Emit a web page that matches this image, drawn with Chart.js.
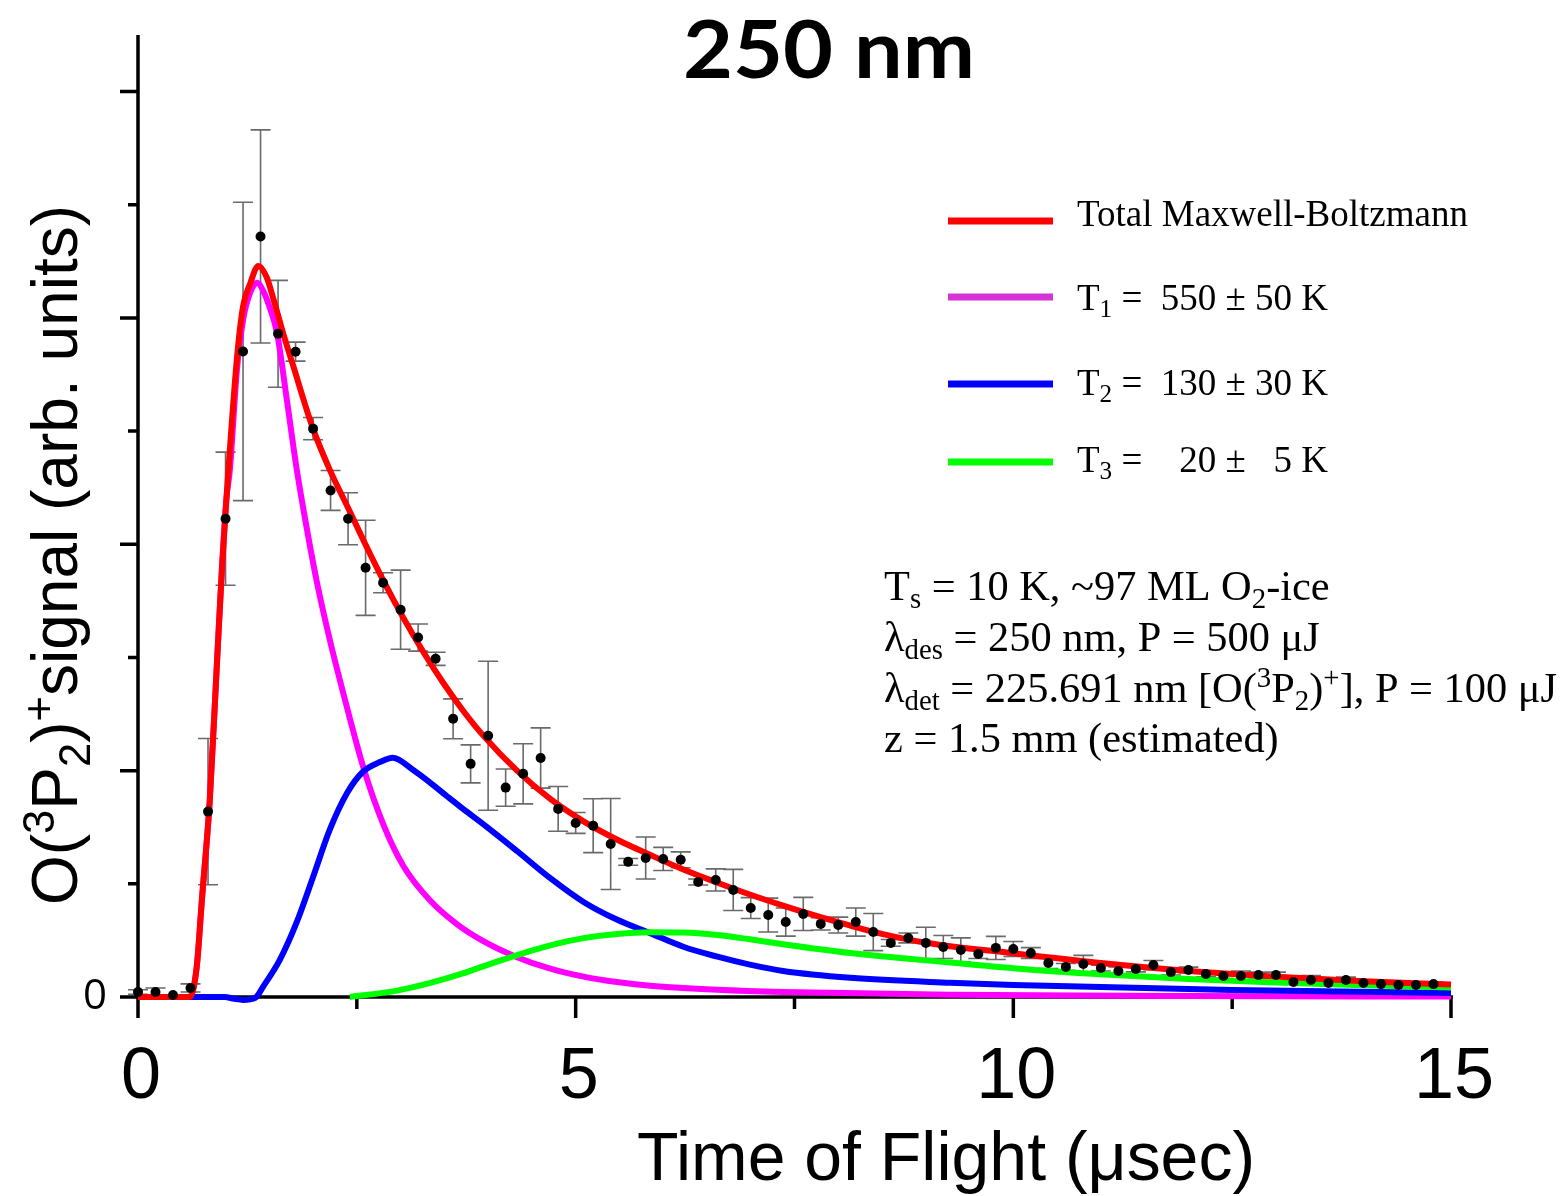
<!DOCTYPE html>
<html>
<head>
<meta charset="utf-8">
<script src="https://cdn.jsdelivr.net/npm/chart.js@4.4.1/dist/chart.umd.min.js"></script>
<style>
  html, body { margin: 0; padding: 0; background: #fff; }
  #wrap { width: 1567px; height: 1196px; }
</style>
</head>
<body>
<div id="wrap"><canvas id="tofChart" width="1567" height="1196"></canvas></div>
<script>
// measured O(3P2)+ signal, one point every 0.2 usec
var tofTimes = [
  0.0, 0.2, 0.4, 0.6, 0.8, 1.0, 1.2, 1.4, 1.6, 1.8,
  2.0, 2.2, 2.4, 2.6, 2.8, 3.0, 3.2, 3.4, 3.6, 3.8,
  4.0, 4.2, 4.4, 4.6, 4.8, 5.0, 5.2, 5.4, 5.6, 5.8,
  6.0, 6.2, 6.4, 6.6, 6.8, 7.0, 7.2, 7.4, 7.6, 7.8,
  8.0, 8.2, 8.4, 8.6, 8.8, 9.0, 9.2, 9.4, 9.6, 9.8,
  10.0, 10.2, 10.4, 10.6, 10.8, 11.0, 11.2, 11.4, 11.6, 11.8,
  12.0, 12.2, 12.4, 12.6, 12.8, 13.0, 13.2, 13.4, 13.6, 13.8,
  14.0, 14.2, 14.4, 14.6, 14.8
];
var tofSignal = [
  0.022, 0.022, 0.009, 0.040, 0.819, 2.113, 2.852, 3.360, 2.930, 2.851,
  2.511, 2.238, 2.113, 1.896, 1.830, 1.711, 1.588, 1.494, 1.229, 1.030,
  1.154, 0.925, 0.986, 1.056, 0.831, 0.769, 0.757, 0.676, 0.597, 0.614,
  0.610, 0.606, 0.508, 0.517, 0.473, 0.393, 0.362, 0.331, 0.367, 0.323,
  0.318, 0.331, 0.287, 0.239, 0.261, 0.239, 0.221, 0.208, 0.190, 0.217,
  0.212, 0.194, 0.150, 0.133, 0.146, 0.128, 0.115, 0.124, 0.141, 0.110,
  0.119, 0.102, 0.093, 0.093, 0.097, 0.097, 0.066, 0.075, 0.062, 0.075,
  0.062, 0.057, 0.053, 0.053, 0.057
];
var tofError = [
  0.010, 0.018, 0.000, 0.018, 0.323, 0.294, 0.659, 0.471, 0.236, 0.042,
  0.049, 0.088, 0.115, 0.210, 0.044, 0.175, 0.060, 0.029, 0.088, 0.084,
  0.329, 0.082, 0.133, 0.133, 0.099, 0.046, 0.119, 0.201, 0.015, 0.093,
  0.051, 0.035, 0.013, 0.049, 0.091, 0.046, 0.075, 0.062, 0.073, 0.027,
  0.035, 0.062, 0.082, 0.015, 0.022, 0.069, 0.051, 0.053, 0.020, 0.051,
  0.033, 0.024, 0.024, 0.015, 0.038, 0.013, 0.018, 0.013, 0.020, 0.013,
  0.013, 0.013, 0.011, 0.022, 0.013, 0.013, 0.009, 0.020, 0.009, 0.013,
  0.009, 0.009, 0.009, 0.009, 0.009
];

// fitted curves
var totalT = [0, 0.59, 0.67, 0.73, 0.82, 0.9, 0.96, 1.01, 1.13, 1.2, 1.28, 1.375, 1.47, 1.55, 1.66, 1.78, 1.89, 2.0, 2.19, 2.42, 2.61, 2.8, 3.03, 3.26, 3.49, 3.71, 3.94, 4.33, 4.71, 5.09, 5.47, 5.85, 6.23, 6.62, 6.99, 7.37, 7.76, 8.14, 8.51, 9.0, 10.0, 11.0, 12.0, 13.0, 14.0, 15.0];
var totalY = [0, 0, 0.13, 0.43, 0.87, 1.46, 1.90, 2.20, 2.82, 3.05, 3.15, 3.23, 3.18, 3.08, 2.93, 2.78, 2.64, 2.51, 2.33, 2.145, 1.99, 1.842, 1.676, 1.524, 1.386, 1.267, 1.157, 1.0, 0.875, 0.776, 0.696, 0.628, 0.563, 0.505, 0.453, 0.404, 0.357, 0.315, 0.278, 0.24, 0.193, 0.15, 0.115, 0.09, 0.07, 0.055];

var t1T = [0, 0.59, 0.67, 0.73, 0.82, 0.9, 0.96, 1.01, 1.05, 1.13, 1.2, 1.28, 1.36, 1.43, 1.51, 1.59, 1.7, 1.81, 1.91, 2.04, 2.19, 2.34, 2.57, 2.8, 3.03, 3.34, 3.65, 3.94, 4.33, 4.71, 5.09, 5.47, 5.85, 6.62, 7.37, 9.28, 12.0, 15.0];
var t1Y = [0, 0, 0.13, 0.43, 0.87, 1.46, 1.90, 2.20, 2.33, 2.77, 2.99, 3.11, 3.155, 3.12, 3.04, 2.93, 2.64, 2.34, 2.11, 1.84, 1.58, 1.35, 1.02, 0.765, 0.58, 0.425, 0.32, 0.248, 0.176, 0.125, 0.09, 0.066, 0.05, 0.032, 0.022, 0.01, 0.004, 0.002];

var t2T = [0, 0.99, 1.1, 1.2, 1.34, 1.43, 1.62, 1.81, 2.0, 2.19, 2.39, 2.57, 2.77, 2.91, 3.14, 3.34, 3.53, 3.71, 3.94, 4.33, 4.71, 5.09, 5.47, 5.85, 6.23, 6.62, 6.99, 7.37, 8.14, 9.28, 10.0, 12.5, 15.0];
var t2Y = [0, 0, -0.008, -0.013, -0.004, 0.046, 0.164, 0.327, 0.53, 0.738, 0.902, 0.995, 1.039, 1.057, 1.004, 0.946, 0.887, 0.832, 0.765, 0.645, 0.525, 0.42, 0.342, 0.282, 0.222, 0.178, 0.143, 0.115, 0.085, 0.063, 0.053, 0.031, 0.018];

var t3T = [2.42, 2.96, 3.34, 3.71, 3.94, 4.33, 4.71, 5.09, 5.47, 5.85, 6.23, 6.62, 6.99, 7.37, 8.14, 9.28, 10.0, 11.0, 12.0, 13.0, 14.0, 15.0];
var t3Y = [0, 0.028, 0.062, 0.104, 0.135, 0.185, 0.228, 0.26, 0.278, 0.286, 0.285, 0.274, 0.255, 0.233, 0.194, 0.152, 0.127, 0.1, 0.08, 0.064, 0.052, 0.042];

var xMajorTicks = [0, 5, 10, 15];
var xMinorTicks = [2.5, 7.5, 12.5];
var yMajorTicks = [0, 1, 2, 3, 4];
var yMinorTicks = [0.5, 1.5, 2.5, 3.5];

var legendItems = [
  { color: '#ff0000', runs: [['Total Maxwell-Boltzmann', 'n']] },
  { color: '#d633d6', runs: [['T', 'n'], ['1', 'sub'], [' =  550 \u00b1 50 K', 'n']] },
  { color: '#0000ff', runs: [['T', 'n'], ['2', 'sub'], [' =  130 \u00b1 30 K', 'n']] },
  { color: '#00ff00', runs: [['T', 'n'], ['3', 'sub'], [' =    20 \u00b1   5 K', 'n']] }
];
var conditions = [
  [['T', 'n'], ['s', 'sub'], [' = 10 K, ~97 ML O', 'n'], ['2', 'sub'], ['-ice', 'n']],
  [['\u03bb', 'n'], ['des', 'sub'], [' = 250 nm, P = 500 \u03bcJ', 'n']],
  [['\u03bb', 'n'], ['det', 'sub'], [' = 225.691 nm [O(', 'n'], ['3', 'sup'], ['P', 'n'], ['2', 'sub'], [')', 'n'], ['+', 'sup'], ['], P = 100 \u03bcJ', 'n']],
  [['z = 1.5 mm (estimated)', 'n']]
];

function pairs(xs, ys) {
  return xs.map(function (x, i) { return { x: x, y: ys[i] }; });
}

// small rich-text helper for sub/superscripts
function setFont(ctx, size, o) {
  ctx.font = (o.weight || 'normal') + ' ' + size + 'px ' + o.family;
}
function runSize(r, size) { return r[1] === 'n' ? size : size * 0.68; }
function runShift(r, size) {
  if (r[1] === 'sub') return size * 0.2;
  if (r[1] === 'sup') return -size * 0.36;
  return 0;
}
function measureRuns(ctx, runs, o) {
  var w = 0;
  runs.forEach(function (r) {
    setFont(ctx, runSize(r, o.size), o);
    w += ctx.measureText(r[0]).width;
  });
  return w;
}
function drawRuns(ctx, runs, x, y, o) {
  var w = measureRuns(ctx, runs, o);
  var sx = o.width ? o.width / w : 1;
  ctx.save();
  ctx.translate(x, y);
  if (o.rotate) ctx.rotate(o.rotate);
  ctx.scale(sx, 1);
  var cx = o.align === 'center' ? -w / 2 : 0;
  ctx.fillStyle = '#000';
  ctx.textAlign = 'left';
  ctx.textBaseline = 'alphabetic';
  runs.forEach(function (r) {
    setFont(ctx, runSize(r, o.size), o);
    ctx.fillText(r[0], cx, runShift(r, o.size));
    cx += ctx.measureText(r[0]).width;
  });
  ctx.restore();
}

var framePlugin = {
  id: 'frame',
  beforeDatasetsDraw: function (chart) {
    var ctx = chart.ctx, xs = chart.scales.x, ys = chart.scales.y;
    var x0 = xs.getPixelForValue(0), y0 = ys.getPixelForValue(0);
    ctx.save();
    ctx.strokeStyle = '#000';
    ctx.lineWidth = 3.5;
    ctx.beginPath();
    ctx.moveTo(x0, chart.chartArea.top);
    ctx.lineTo(x0, y0 + 21);
    ctx.moveTo(x0, y0);
    ctx.lineTo(xs.getPixelForValue(15) + 2, y0);
    xMajorTicks.forEach(function (v) {
      var px = xs.getPixelForValue(v);
      ctx.moveTo(px, y0); ctx.lineTo(px, y0 + 21);
    });
    xMinorTicks.forEach(function (v) {
      var px = xs.getPixelForValue(v);
      ctx.moveTo(px, y0); ctx.lineTo(px, y0 + 12);
    });
    yMajorTicks.forEach(function (v) {
      var py = ys.getPixelForValue(v);
      ctx.moveTo(x0, py); ctx.lineTo(x0 - 18, py);
    });
    yMinorTicks.forEach(function (v) {
      var py = ys.getPixelForValue(v);
      ctx.moveTo(x0, py); ctx.lineTo(x0 - 10, py);
    });
    ctx.stroke();

    // error bars under the curves
    ctx.strokeStyle = '#6a6a6a';
    ctx.lineWidth = 1.6;
    ctx.beginPath();
    tofTimes.forEach(function (t, i) {
      if (!tofError[i]) return;
      var px = xs.getPixelForValue(t);
      var top = ys.getPixelForValue(tofSignal[i] + tofError[i]);
      var bot = ys.getPixelForValue(tofSignal[i] - tofError[i]);
      ctx.moveTo(px, top); ctx.lineTo(px, bot);
      ctx.moveTo(px - 10, top); ctx.lineTo(px + 10, top);
      ctx.moveTo(px - 10, bot); ctx.lineTo(px + 10, bot);
    });
    ctx.stroke();
    ctx.restore();
  },
  afterDraw: function (chart) {
    var ctx = chart.ctx, xs = chart.scales.x, ys = chart.scales.y;
    var sans = '"Liberation Sans", Arial, sans-serif';
    var serif = '"Liberation Serif", "Times New Roman", serif';

    // title
    drawRuns(ctx, [['250 nm', 'n']], 829, 78, { size: 80, family: 'Lato, "Open Sans", sans-serif', weight: 'bold', align: 'center', width: 292 });

    // tick labels
    ctx.save();
    ctx.fillStyle = '#000';
    ctx.font = '72px ' + sans;
    ctx.textAlign = 'center';
    ctx.textBaseline = 'alphabetic';
    xMajorTicks.forEach(function (v) {
      ctx.fillText(String(v), xs.getPixelForValue(v) + 3, 1098);
    });
    ctx.font = '42px "Open Sans", sans-serif';
    ctx.textBaseline = 'middle';
    ctx.fillText('0', 95, ys.getPixelForValue(0));
    ctx.restore();

    // axis titles
    drawRuns(ctx, [['Time of Flight (\u03bcsec)', 'n']], 946, 1180, { size: 68, family: sans, align: 'center', width: 618 });
    drawRuns(ctx, [['O(', 'n'], ['3', 'sup'], ['P', 'n'], ['2', 'sub'], [')', 'n'], ['+', 'sup'], ['signal (arb. units)', 'n']],
      77, 555, { size: 64, family: sans, align: 'center', width: 700, rotate: -Math.PI / 2 });

    // legend
    var legendLineY = [221, 297, 384, 462];
    var legendTextY = [226, 310, 395, 472];
    legendItems.forEach(function (item, i) {
      ctx.save();
      ctx.strokeStyle = item.color;
      ctx.lineWidth = 7;
      ctx.beginPath();
      ctx.moveTo(948, legendLineY[i]);
      ctx.lineTo(1053, legendLineY[i]);
      ctx.stroke();
      ctx.restore();
      drawRuns(ctx, item.runs, 1077, legendTextY[i], { size: 37, family: serif });
    });

    // experimental conditions
    var condY = [600, 651, 702, 752];
    conditions.forEach(function (runs, i) {
      drawRuns(ctx, runs, 884, condY[i], { size: 42.4, family: serif });
    });
  }
};

function curve(label, xs, ys, color, order) {
  return {
    type: 'line',
    label: label,
    data: pairs(xs, ys),
    borderColor: color,
    borderWidth: 6,
    pointRadius: 0,
    fill: false,
    cubicInterpolationMode: 'monotone',
    clip: false,
    order: order
  };
}

var ctx = document.getElementById('tofChart').getContext('2d');
var chart = new Chart(ctx, {
  type: 'scatter',
  data: {
    datasets: [
      {
        type: 'scatter',
        label: 'data',
        data: pairs(tofTimes, tofSignal),
        backgroundColor: '#000',
        borderWidth: 0,
        pointRadius: 5,
        clip: false,
        order: 0
      },
      curve('Total Maxwell-Boltzmann', totalT, totalY, '#ff0000', 1),
      curve('T3', t3T, t3Y, '#00ff00', 2),
      curve('T2', t2T, t2Y, '#0000ff', 3),
      curve('T1', t1T, t1Y, '#ff00ff', 4)
    ]
  },
  options: {
    responsive: false,
    animation: false,
    layout: { padding: { left: 138, right: 116, top: 35, bottom: 199 } },
    plugins: { legend: { display: false }, tooltip: { enabled: false } },
    scales: {
      x: { type: 'linear', display: false, min: 0, max: 15 },
      y: { type: 'linear', display: false, min: 0, max: 4.25 }
    }
  },
  plugins: [framePlugin]
});
</script>
</body>
</html>
